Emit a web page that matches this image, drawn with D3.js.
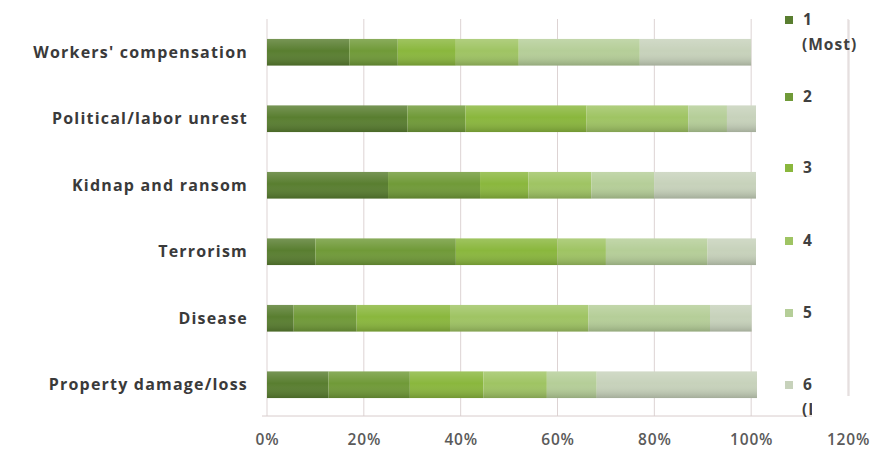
<!DOCTYPE html>
<html><head><meta charset="utf-8">
<script src="https://cdn.jsdelivr.net/npm/d3@7"></script>
<style>body{margin:0;background:#fff}svg{display:block}</style>
</head><body>
<script>
const categories = ["Workers' compensation","Political/labor unrest","Kidnap and ransom","Terrorism","Disease","Property damage/loss"];
const seriesNames = ["1\n(Most)","2","3","4","5","6\n(Least)"];
const s1 = [17, 29, 25, 10, 5.5, 12.7];
const s2 = [10, 12, 19, 29, 13, 16.8];
const s3 = [12, 25, 10, 21, 19.3, 15.2];
const s4 = [13, 21, 13, 10, 28.6, 13.1];
const s5 = [25, 8, 13, 21, 25.1, 10.3];
const s6 = [23, 6, 21, 10, 8.6, 33.1];
const tickValues = [0, 20, 40, 60, 80, 100, 120];
const colors = ["#597e30","#709a38","#8ab73d","#9fc463","#b5ce98","#c7d2bb"];

const W = 882, H = 456;
const svg = d3.select("body").append("svg").attr("width", W).attr("height", H);
const defs = svg.append("defs");
const grad = defs.append("linearGradient").attr("id","shade").attr("x1",0).attr("y1",0).attr("x2",0).attr("y2",1);
grad.append("stop").attr("offset","0%").attr("stop-color","#fff").attr("stop-opacity",0.18);
grad.append("stop").attr("offset","45%").attr("stop-color","#fff").attr("stop-opacity",0.0);
grad.append("stop").attr("offset","100%").attr("stop-color","#000").attr("stop-opacity",0.18);

const x = d3.scaleLinear().domain([0, 120]).range([267, 848]);
const y = d3.scaleBand().domain(categories).range([19, 418]).paddingInner(0.6).paddingOuter(0.3);

// gridlines
svg.append("g").selectAll("line").data(tickValues).join("line")
  .attr("x1", d => x(d)).attr("x2", d => x(d)).attr("y1", 19).attr("y2", 416)
  .attr("stroke", "#ddd3d3").attr("stroke-width", 1);
svg.append("line").attr("x1", 262).attr("x2", x(120)).attr("y1", 416).attr("y2", 416)
  .attr("stroke", "#d8cccc").attr("stroke-width", 1);

// stacked data
const series = [s1, s2, s3, s4, s5, s6];
const rows = categories.map((c, i) => {
  const o = {cat: c};
  series.forEach((s, k) => o["k" + k] = s[i]);
  return o;
});
const stack = d3.stack().keys(series.map((s, k) => "k" + k))(rows);

const gBars = svg.append("g");
stack.forEach((layer, k) => {
  gBars.append("g").selectAll("rect").data(layer).join("rect")
    .attr("x", d => x(d[0])).attr("width", d => x(d[1]) - x(d[0]))
    .attr("y", d => y(d.data.cat)).attr("height", y.bandwidth())
    .attr("fill", colors[k]);
});
gBars.append("g").selectAll("rect").data(rows).join("rect")
  .attr("x", x(0)).attr("width", d => x(d3.sum(series, s => s[categories.indexOf(d.cat)])) - x(0))
  .attr("y", d => y(d.cat)).attr("height", y.bandwidth())
  .attr("fill", "url(#shade)");

// category labels
svg.append("g").selectAll("text").data(categories).join("text")
  .attr("x", 248).attr("y", d => y(d) + y.bandwidth() / 2)
  .attr("dy", "0.35em").attr("text-anchor", "end")
  .attr("font-family", "'Open Sans', sans-serif").attr("font-weight", 700)
  .attr("font-size", 16).attr("letter-spacing", 1.2).attr("fill", "#3a3a3a")
  .text(d => d);

// x axis labels
const xAxis = d3.axisBottom(x).tickValues(tickValues).tickFormat(d => d + "%").tickSize(0).tickPadding(0);
const ax = svg.append("g").attr("transform", "translate(0,434)").call(xAxis);
ax.select(".domain").remove();
ax.selectAll("text").attr("font-family", "'Open Sans', sans-serif").attr("font-size", 15.5)
  .attr("font-weight", 600).attr("letter-spacing", 0.8).attr("fill", "#5a5a5a");

// right border
svg.append("line").attr("x1", 849).attr("x2", 849).attr("y1", 20).attr("y2", 416)
  .attr("stroke", "#ddd5d5");

// legend
const legY = [20, 97, 168, 241, 313, 385];
const leg = svg.append("g").selectAll("g").data(seriesNames).join("g")
  .attr("transform", (d, i) => `translate(785,${legY[i]})`);
leg.append("rect").attr("x", 0).attr("y", -4).attr("width", 8).attr("height", 8)
  .attr("fill", (d, i) => colors[i]);
leg.each(function(d) {
  const lines = d.split("\n");
  const t = d3.select(this).append("text").attr("x", 16).attr("y", 0)
    .attr("font-family", "'Open Sans', sans-serif").attr("font-weight", 700)
    .attr("font-size", 15.5).attr("letter-spacing", 1.0).attr("fill", "#404040");
  lines.forEach((l, j) => t.append("tspan").attr("x", j ? 17 : 18).attr("dy", j ? 25 : "0.35em").text(l));
});

// white box covering bottom-right corner (as in reference)
svg.append("rect").attr("x", 812).attr("y", 396).attr("width", 70).attr("height", 28).attr("fill", "#fff");
</script>
</body></html>
